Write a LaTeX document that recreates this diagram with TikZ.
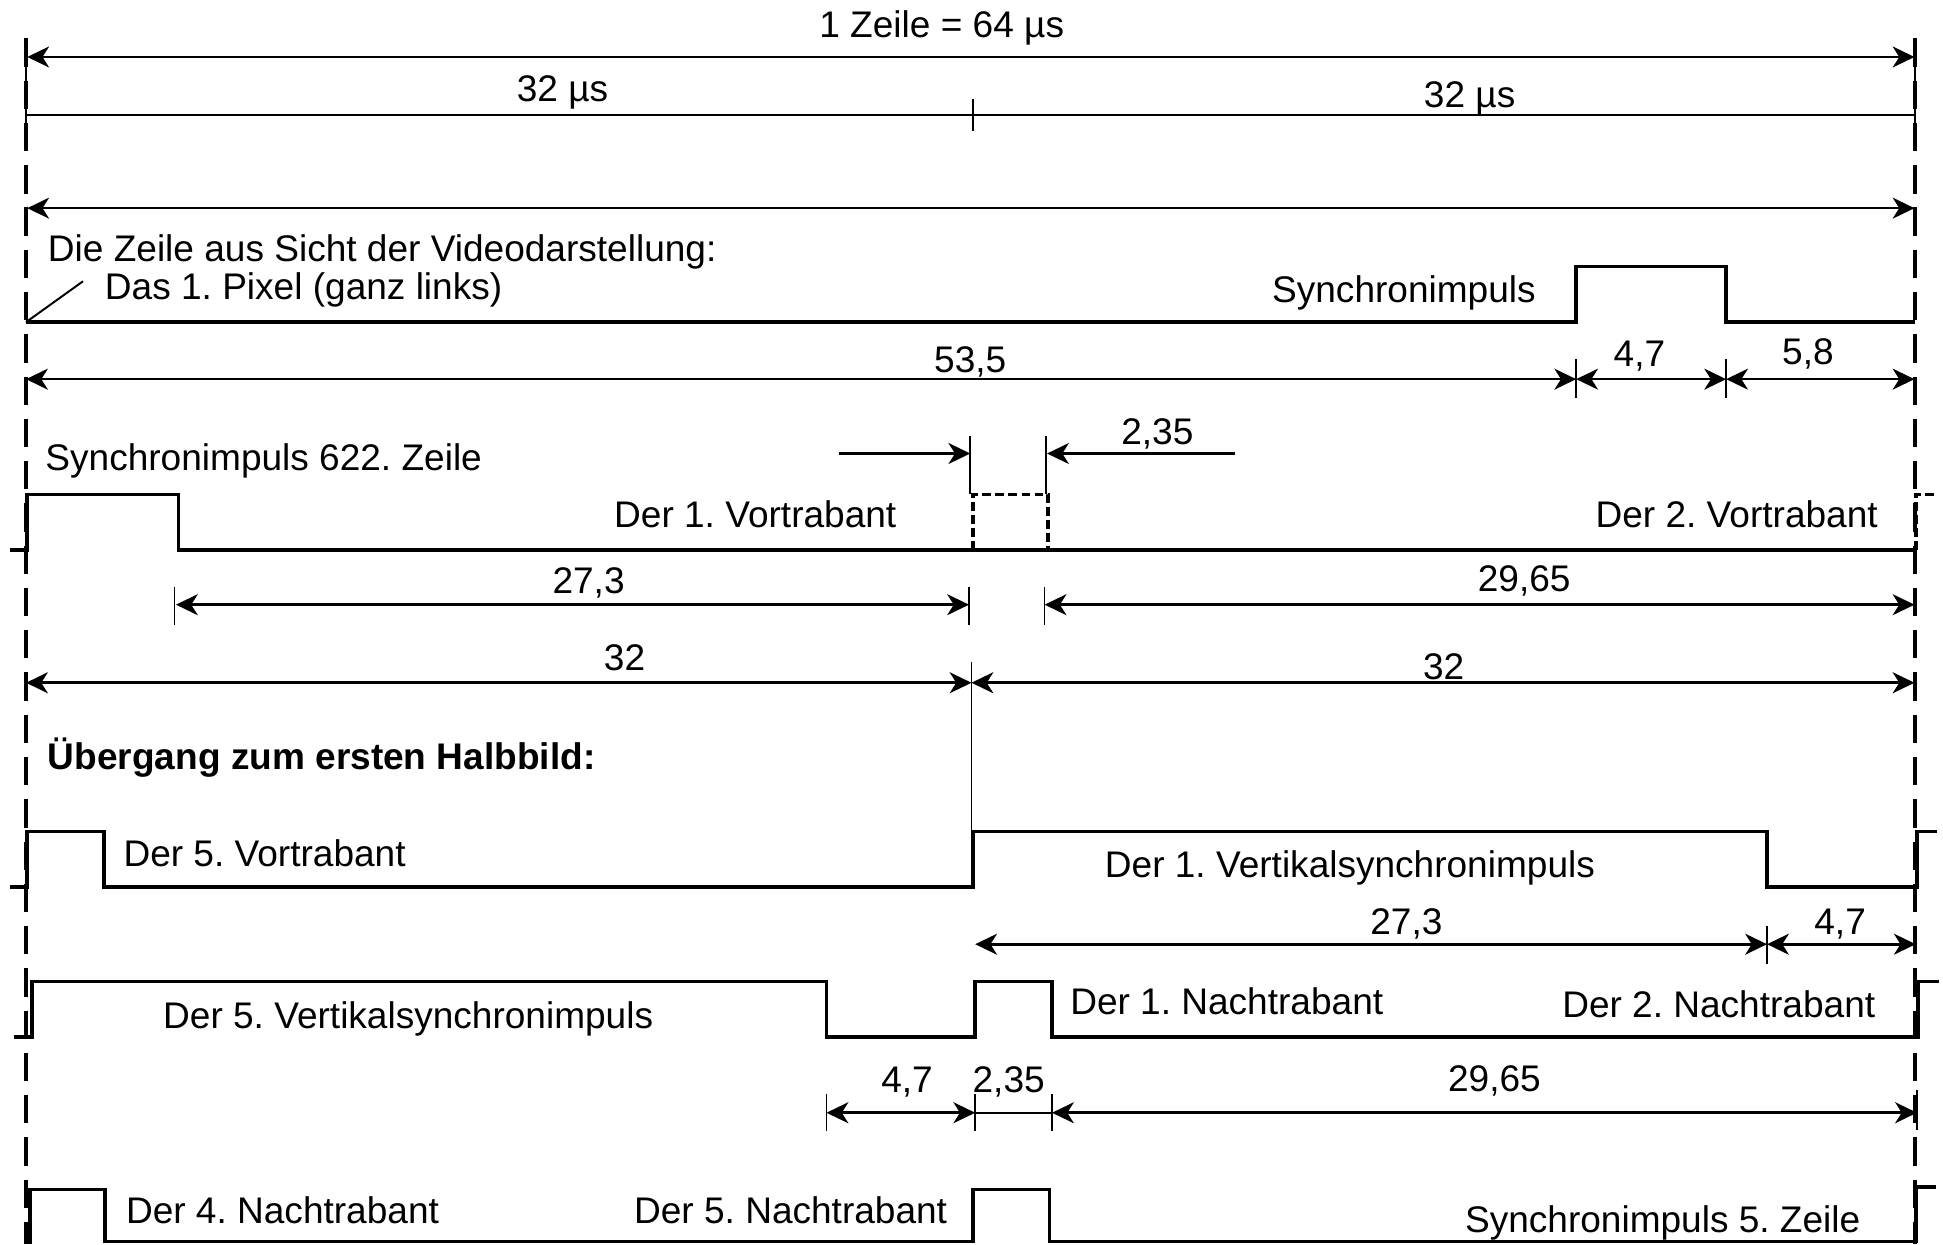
\documentclass[tikz,border=0pt]{standalone}
\usepackage{fontspec}
\setmainfont{Liberation Sans}
\usetikzlibrary{arrows.meta}
\frenchspacing
\tikzstyle{signal}=[draw,line width=0.85pt]
\tikzstyle{pulsedash}=[draw,line width=0.85pt,dash pattern=on 2pt off 1pt]
\tikzstyle{guide}=[draw,line width=0.75pt,dash pattern=on 6.5pt off 3.2pt]
\tikzstyle{dim}=[draw,line width=0.6pt]
\tikzstyle{marker}=[draw,line width=0.35pt]
\tikzstyle{dimlabel}=[inner sep=0pt,anchor=base]
\tikzstyle{sigtext}=[inner sep=0pt]

\begin{document}
\begin{tikzpicture}[x=0.01cm,y=-0.01cm,font=\fontsize{8.5}{10}\selectfont,
    >={Stealth[length=5pt,width=4.8pt,inset=1.5pt]}]
    \useasboundingbox (0,0) rectangle (1568,1004);
    % Begin and end of the line
    \foreach \x in {21,1545.5} {
        \path[guide] (\x,31) -- (\x,1004);
        \path[dim] (\x,31) -- (\x,107);
    }

    % Dimension arrows
    \foreach \y/\a/\b in {46/22/1545, 168/22/1545, 306/21/1272, 306/1272/1393,
        306/1393/1545, 488/142/782, 488/843/1545, 551/21/784, 551/784/1545,
        762/787/1426, 762/1426/1546, 898/667/787, 898/849/1547}
        \path[dim,<->] (\a,\y) -- (\b,\y);
    \path[dim,->] (677,366) -- (783,366);
    \path[dim,->] (997,366) -- (845,366);
    \path[marker,line width=0.45pt] (21,93) -- (1545,93);
    \path[marker] (787,898) -- (849,898);

    % Ticks
    \foreach \x/\ya/\yb in {785/80/106, 1272/290/321, 1393/290/321, 783/352/399,
        844/352/399, 141/474/504, 782/474/504, 843/474/504, 784/534/671,
        1426/747/778, 667/883/913, 787/883/913, 849/883/913, 1547/880/912}
        \path[marker] (\x,\ya) -- (\x,\yb);

    % The signals
    \path[signal] (21,260) -- (1272,260) -- (1272,215) -- (1393,215) -- (1393,260) -- (1545,260);
    \path[marker,line width=0.45pt] (21,260) -- (67,227);
    \path[signal] (8,444) -- (22,444) -- (22,399) -- (144,399) -- (144,444) -- (1545,444);
    \path[pulsedash] (785,444) -- (785,399) -- (846,399) -- (846,444);
    \path[pulsedash] (1546,444) -- (1546,399) -- (1561,399);
    \path[signal] (8,716) -- (22,716) -- (22,671) -- (84,671) -- (84,716) -- (785,716)
        -- (785,671) -- (1426,671) -- (1426,716) -- (1547,716) -- (1547,671) -- (1563,671);
    \path[signal] (11,837) -- (26,837) -- (26,792) -- (667,792) -- (667,837) -- (787,837)
        -- (787,792) -- (849,792) -- (849,837) -- (1548,837) -- (1548,792) -- (1565,792);
    \path[signal] (24,1004) -- (24,960) -- (85,960) -- (85,1002) -- (785,1002) -- (785,960)
        -- (847,960) -- (847,1002) -- (1546,1002) -- (1546,958) -- (1562,958);

    % Values of the dimensions
    \foreach \pos/\name/\lbl in {{(760,30)/zeile/{1 Zeile = 64 µs}}, {(454,82)/halfa/{32 µs}},
        {(1186,87)/halfb/{32 µs}}, {(783,301)/va/{53,5}}, {(1323,296)/vb/{4,7}},
        {(1459,294)/vc/{5,8}}, {(934,359)/vd/{2,35}}, {(475,479)/ve/{27,3}},
        {(1230,477)/vf/{29,65}}, {(504,541)/vg/{32}}, {(1165,548)/vh/{32}},
        {(1135,754)/vi/{27,3}}, {(1485,754)/vj/{4,7}}, {(732,882)/vk/{4,7}},
        {(814,882)/vl/{2,35}}, {(1206,881)/vm/{29,65}}}
        \node[dimlabel] (\name) at \pos {\lbl};

    % Texts
    \foreach \pos/\anc/\name/\lbl in {
        {(38,211)/base west/sicht/{Die Zeile aus Sicht der Videodarstellung:}},
        {(84,242)/base west/pixel/{Das 1. Pixel (ganz links)}},
        {(1240,244)/base east/sync/{Synchronimpuls}},
        {(36,380)/base west/synca/{Synchronimpuls 622. Zeile}},
        {(724,426)/base east/vora/{Der 1. Vortrabant}},
        {(1516,426)/base east/vorb/{Der 2. Vortrabant}},
        {(38,621)/base west/ueber/{\bfseries Übergang zum ersten Halbbild:}},
        {(99,699)/base west/vorc/{Der 5. Vortrabant}},
        {(891,708)/base west/verta/{Der 1. Vertikalsynchronimpuls}},
        {(131,830)/base west/vertb/{Der 5. Vertikalsynchronimpuls}},
        {(863,819)/base west/nacha/{Der 1. Nachtrabant}},
        {(1514,821)/base east/nachb/{Der 2. Nachtrabant}},
        {(101,987)/base west/nachc/{Der 4. Nachtrabant}},
        {(765,987)/base east/nachd/{Der 5. Nachtrabant}},
        {(1502,995)/base east/syncb/{Synchronimpuls 5. Zeile}}}
        \node[sigtext,anchor=\anc] (\name) at \pos {\lbl};
\end{tikzpicture}
\end{document}
